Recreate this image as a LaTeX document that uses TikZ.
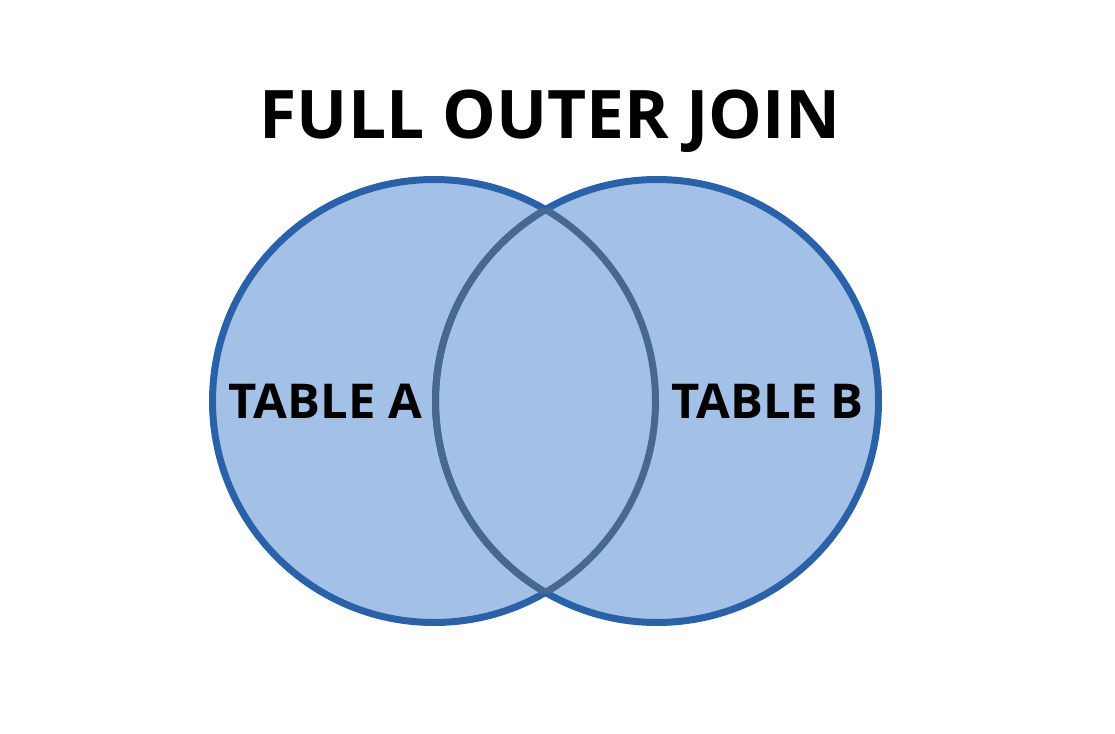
\documentclass[tikz,border=0pt]{standalone}
\usepackage{fontspec}
\setmainfont{Open Sans}
\definecolor{vfill}{HTML}{A3C1E6}
\definecolor{vedge}{HTML}{2A62AA}
\definecolor{vinner}{HTML}{476890}
\begin{document}
\begin{tikzpicture}[x=1pt,y=-1pt,
  setcircle/.style={circle,minimum size=443pt,inner sep=0pt,fill=vfill,draw=vedge,line width=7pt},
  bigtitle/.style={font=\fontsize{67}{70}\selectfont\bfseries,inner sep=0pt},
  tablelabel/.style={font=\fontsize{48}{52}\selectfont\bfseries,inner sep=0pt}]
\useasboundingbox (0,0) rectangle (1115,733);
\fill[white] (0,0) rectangle (1115,733);
\node[setcircle] (A) at (434,401) {};
\node[setcircle] (B) at (657,401) {};
\begin{scope}
  \clip (B.center) circle (221.5pt);
  \draw[vinner,line width=7pt] (A.center) circle (221.5pt);
\end{scope}
\begin{scope}
  \clip (A.center) circle (221.5pt);
  \draw[vinner,line width=7pt] (B.center) circle (221.5pt);
\end{scope}
\node[bigtitle,xscale=1.01] (T) at (550,121) {FULL OUTER JOIN};
\node[tablelabel,xscale=1.02] (LA) at (325.5,401) {TABLE A};
\node[tablelabel,xscale=1.02] (LB) at (767.5,401) {TABLE B};
\end{tikzpicture}
\end{document}
